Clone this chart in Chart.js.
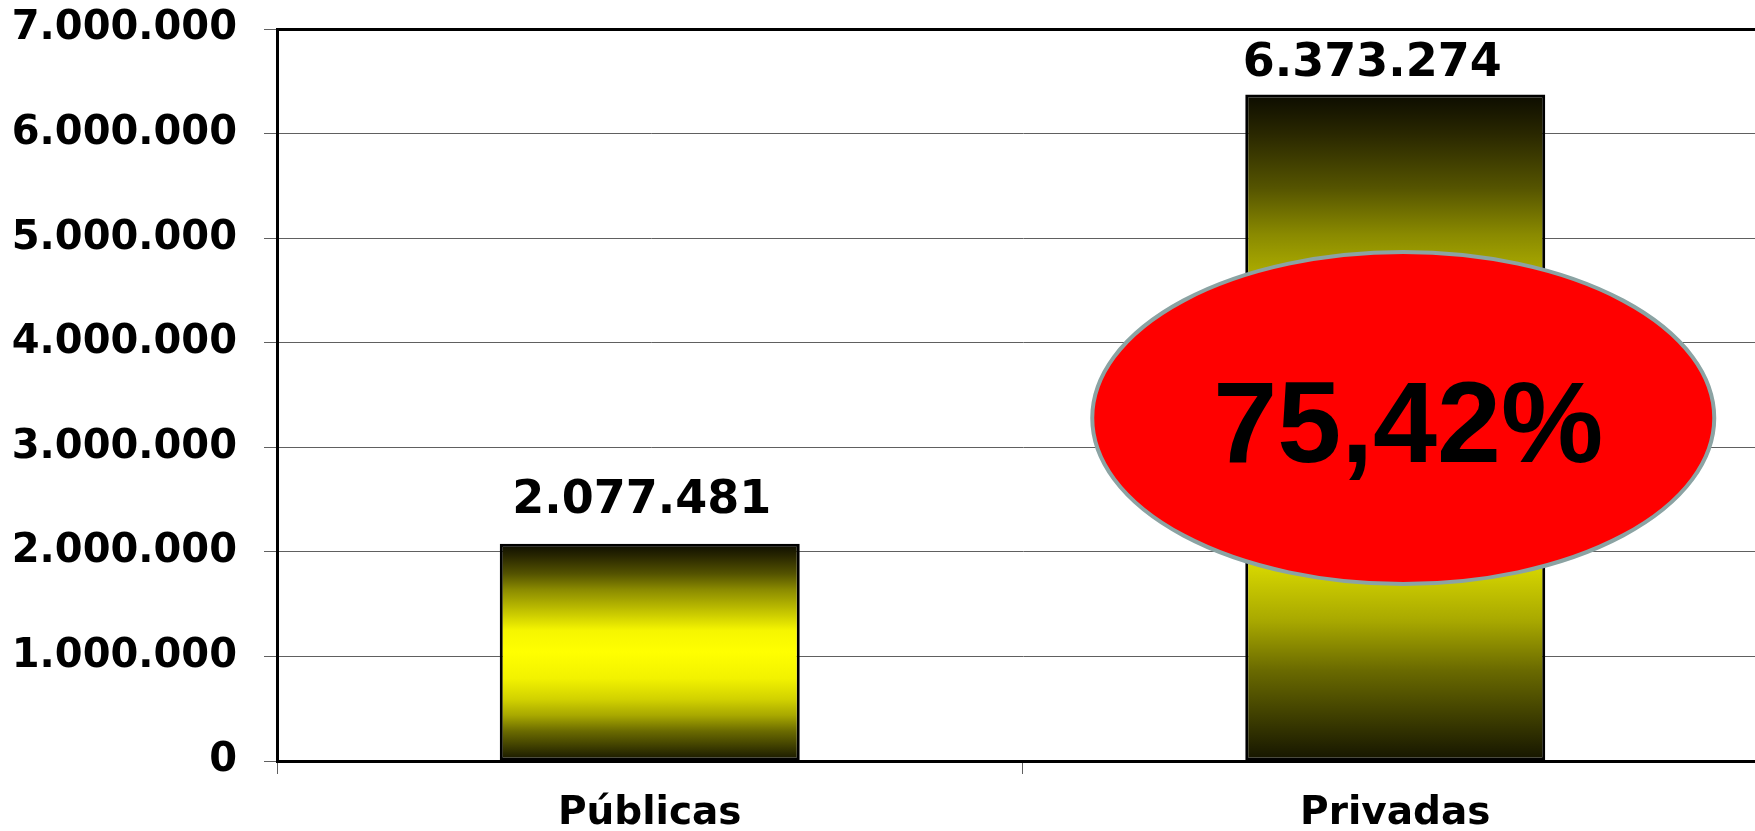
<!DOCTYPE html>
<html>
<head>
<meta charset="utf-8">
<script src="https://cdn.jsdelivr.net/npm/chart.js@4"></script>
<style>
html, body { margin: 0; padding: 0; background: #ffffff; overflow: hidden; }
#wrap { width: 1770px; height: 831px; }
</style>
</head>
<body>
<div id="wrap"><canvas id="c" width="1770" height="831"></canvas></div>
<script>
// ---- data ----
const categories = ['Públicas', 'Privadas'];
const values = [2077481, 6373274];
const yTicks = [0, 1000000, 2000000, 3000000, 4000000, 5000000, 6000000, 7000000];

function fmt(n) {
  return String(n).replace(/\B(?=(\d{3})+(?!\d))/g, '.');
}
const share = values[1] / (values[0] + values[1]) * 100;
const shareText = share.toFixed(2).replace('.', ',') + '%';

function barGradient(ctx) {
  const chart = ctx.chart;
  if (!chart.chartArea || ctx.dataIndex === undefined) return '#ffff00';
  const y = chart.scales.y;
  const top = y.getPixelForValue(values[ctx.dataIndex]);
  const bot = y.getPixelForValue(0);
  const g = chart.ctx.createLinearGradient(0, top, 0, bot);
  g.addColorStop(0.00, '#0c0c00');
  g.addColorStop(0.06, '#2a2800');
  g.addColorStop(0.14, '#555400');
  g.addColorStop(0.21, '#8a8a00');
  g.addColorStop(0.27, '#acac00');
  g.addColorStop(0.40, '#f6f600');
  g.addColorStop(0.50, '#ffff00');
  g.addColorStop(0.62, '#f2f200');
  g.addColorStop(0.715, '#d2d200');
  g.addColorStop(0.79, '#a8a800');
  g.addColorStop(0.864, '#6a6a00');
  g.addColorStop(0.94, '#3a3a00');
  g.addColorStop(1.00, '#141400');
  return g;
}

const overlay = {
  id: 'overlay',
  afterDatasetsDraw(chart, args, opts) {
    const c = chart.ctx;
    const meta = chart.getDatasetMeta(0);
    const xs = chart.scales.x, ys = chart.scales.y;
    // value labels
    c.save();
    c.fillStyle = '#000';
    c.font = 'bold 46px "DejaVu Sans"';
    c.textAlign = 'center';
    c.textBaseline = 'alphabetic';
    meta.data.forEach((bar, i) => {
      c.fillText(fmt(values[i]), bar.x + opts.dx[i], bar.y + opts.dy[i]);
    });
    // ellipse callout
    const cx = xs.getPixelForValue(1) + 8;
    const cy = ys.getPixelForValue(3280000);
    c.beginPath();
    c.ellipse(cx, cy, 311, 166, 0, 0, Math.PI * 2);
    c.fillStyle = '#ff0000';
    c.fill();
    c.lineWidth = 4;
    c.strokeStyle = '#8ba3a3';
    c.stroke();
    c.fillStyle = '#000';
    c.font = 'bold 115px "Liberation Sans"';
    c.textAlign = 'center';
    c.textBaseline = 'alphabetic';
    c.fillText(shareText, cx + 5, cy + 44);
    c.restore();
  }
};

new Chart(document.getElementById('c'), {
  type: 'bar',
  data: {
    labels: categories,
    datasets: [{
      data: values,
      backgroundColor: barGradient,
      borderColor: '#000000',
      borderWidth: 3,
      borderSkipped: false,
      categoryPercentage: 1.0,
      barPercentage: 0.4024
    }]
  },
  options: {
    responsive: false,
    animation: false,
    devicePixelRatio: 1,
    layout: { padding: { top: 29, right: 2, left: 0, bottom: 0 } },
    plugins: {
      legend: { display: false },
      tooltip: { enabled: false },
      overlay: { dx: [-8, -23], dy: [-31, -19] }
    },
    scales: {
      x: {
        offset: true,
        grid: {
          offset: true,
          drawOnChartArea: false,
          drawTicks: true,
          tickLength: 13,
          tickColor: '#606060',
          tickWidth: 1
        },
        border: { color: '#000000', width: 3 },
        ticks: {
          color: '#000000',
          font: { family: 'DejaVu Sans', weight: 'bold', size: 39 },
          padding: 16,
          maxRotation: 0
        },
        afterFit(scale) { scale.height = 70; scale.paddingLeft = 0; scale.paddingRight = 0; }
      },
      y: {
        min: 0,
        max: 7000000,
        afterBuildTicks(scale) { scale.ticks = yTicks.map(v => ({ value: v })); },
        grid: {
          color: (ctx) => ctx.tick && ctx.tick.value === 7000000 ? '#000000' : (ctx.tick && ctx.tick.value === 0 ? 'rgba(0,0,0,0)' : '#606060'),
          lineWidth: (ctx) => ctx.tick && ctx.tick.value === 7000000 ? 3 : 1,
          tickLength: 13,
          tickColor: '#606060',
          tickWidth: 1
        },
        border: { color: '#000000', width: 3 },
        ticks: {
          color: '#000000',
          font: { family: 'DejaVu Sans', weight: 'bold', size: 40 },
          padding: 27,
          callback: (v) => fmt(v)
        },
        afterFit(scale) { scale.width = 277; scale.paddingTop = 0; scale.paddingBottom = 0; }
      }
    }
  },
  plugins: [overlay]
});
</script>
</body>
</html>
